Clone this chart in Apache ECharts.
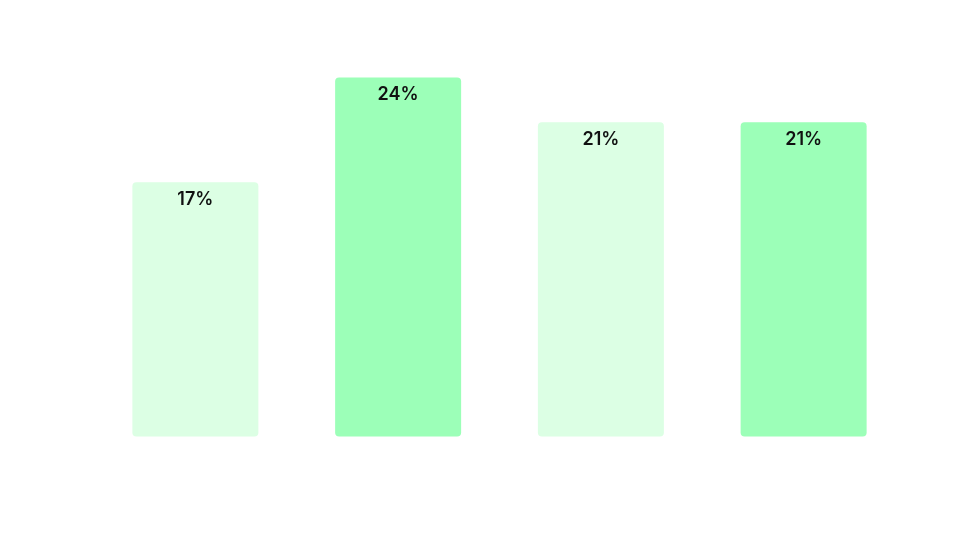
<!DOCTYPE html>
<html>
<head>
<meta charset="utf-8">
<script src="https://cdn.jsdelivr.net/npm/echarts@6/dist/echarts.min.js"></script>
<style>html,body{margin:0;padding:0;background:#fff}#c{width:960px;height:540px}</style>
</head>
<body>
<div id="c"></div>
<script>
var categories = ['A', 'B', 'C', 'D'];
var values = [17, 24, 21, 21];
var colors = ['#dcffe4', '#9cffb8', '#dcffe4', '#9cffb8'];

var chart = echarts.init(document.getElementById('c'));
chart.setOption({
  animation: false,
  grid: { left: 94, right: 55, top: 62.5, bottom: 103.5 },
  xAxis: {
    type: 'category', data: categories,
    axisLine: { show: false }, axisTick: { show: false }, axisLabel: { show: false }
  },
  yAxis: {
    type: 'value', min: 0, max: 25,
    show: false, splitLine: { show: false }
  },
  series: [{
    type: 'bar',
    barWidth: 126,
    data: values.map(function (v, i) {
      return { value: v, itemStyle: { color: colors[i], borderRadius: 4 } };
    }),
    label: {
      show: true, position: 'insideTop', distance: 8,
      formatter: '{c}%', color: '#111', fontSize: 18, fontWeight: 600,
      fontFamily: 'Inter'
    }
  }]
});
</script>
</body>
</html>
